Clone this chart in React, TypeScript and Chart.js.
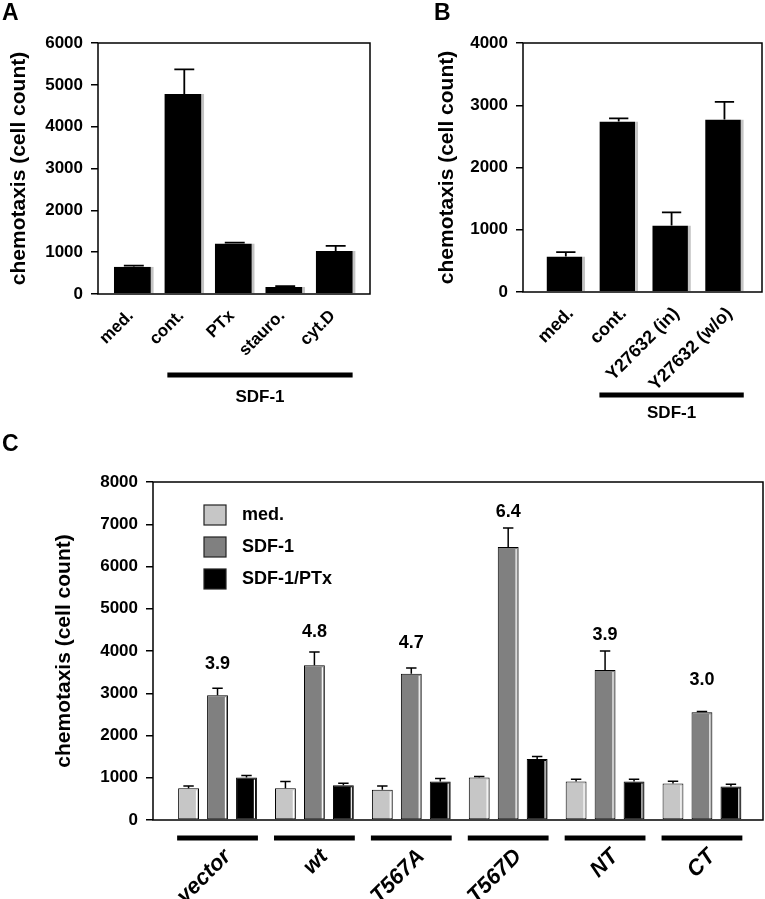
import React, { useEffect, useRef } from 'react';
import { Chart, registerables } from 'chart.js';

Chart.register(...registerables);

const FONT = "'Liberation Sans', Arial, Helvetica, sans-serif";
Chart.defaults.font.family = FONT;
Chart.defaults.color = '#000';

// ---------- Panel A ----------
const aCategories = ['med.', 'cont.', 'PTx', 'stauro.', 'cyt.D'];
const aValues = [650, 4780, 1210, 170, 1030];
const aErrors = [30, 590, 20, 15, 120];

// ---------- Panel B ----------
const bCategories = ['med.', 'cont.', 'Y27632 (in)', 'Y27632 (w/o)'];
const bValues = [570, 2740, 1070, 2770];
const bErrors = [70, 50, 210, 285];

// ---------- Panel C ----------
const cGroups = ['vector', 'wt', 'T567A', 'T567D', 'NT', 'CT'];
const cSeriesNames = ['med.', 'SDF-1', 'SDF-1/PTx'];
const medValues = [750, 750, 715, 1005, 910, 865];
const medErrors = [55, 160, 90, 25, 55, 50];
const sdfValues = [2955, 3660, 3460, 6460, 3550, 2550];
const sdfErrors = [165, 315, 135, 450, 450, 20];
const ptxValues = [1005, 820, 910, 1445, 910, 795];
const ptxErrors = [50, 50, 70, 60, 55, 50];
const ratioLabels = ['3.9', '4.8', '4.7', '6.4', '3.9', '3.0'];
const ratioLevels = [3690, 4460, 4190, 7290, 4380, 3305];

const yTitle = 'chemotaxis (cell count)';

// ---------- plugins ----------
function framePlugin() {
  return {
    id: 'frame',
    afterDraw(chart: any) {
      const { ctx, chartArea: a } = chart;
      ctx.save();
      ctx.strokeStyle = '#000';
      ctx.lineWidth = 1.5;
      ctx.strokeRect(a.left, a.top, a.right - a.left, a.bottom - a.top);
      ctx.restore();
    },
  };
}

function bevelPlugin(color: string, lw: number) {
  return {
    id: 'bevel',
    afterDatasetsDraw(chart: any) {
      const { ctx } = chart;
      ctx.save();
      ctx.strokeStyle = color;
      ctx.lineWidth = lw;
      chart.data.datasets.forEach((_ds: any, di: number) => {
        chart.getDatasetMeta(di).data.forEach((el: any) => {
          const x = el.x + el.width / 2 - 2.5;
          ctx.beginPath();
          ctx.moveTo(x, el.y + 2);
          ctx.lineTo(x, el.base - 1);
          ctx.stroke();
        });
      });
      ctx.restore();
    },
  };
}

function errorBarPlugin(lineWidth: number) {
  return {
    id: 'errorBars',
    afterDatasetsDraw(chart: any) {
      const { ctx } = chart;
      const yScale = chart.scales.y;
      ctx.save();
      ctx.strokeStyle = '#000';
      ctx.lineWidth = lineWidth;
      chart.data.datasets.forEach((ds: any, di: number) => {
        const errs = ds.errors;
        if (!errs) return;
        chart.getDatasetMeta(di).data.forEach((el: any, j: number) => {
          const v = ds.data[j].y;
          const top = yScale.getPixelForValue(v + errs[j]);
          const half = el.width * 0.25;
          ctx.beginPath();
          ctx.moveTo(el.x, el.y);
          ctx.lineTo(el.x, top);
          ctx.moveTo(el.x - half, top);
          ctx.lineTo(el.x + half, top);
          ctx.stroke();
        });
      });
      ctx.restore();
    },
  };
}

function groupLinePlugin(cfg: {
  spans: { from: number; to: number; label?: string }[];
  y: number;
  thickness: number;
  textY?: number;
  inset: number;
}) {
  return {
    id: 'groupLines',
    afterDraw(chart: any) {
      const { ctx } = chart;
      const first = chart.getDatasetMeta(0);
      const last = chart.getDatasetMeta(chart.data.datasets.length - 1);
      ctx.save();
      ctx.fillStyle = '#000';
      cfg.spans.forEach((s) => {
        const a = first.data[s.from];
        const b = last.data[s.to];
        const x1 = a.x - a.width / 2 + cfg.inset;
        const x2 = b.x + b.width / 2 - cfg.inset;
        ctx.fillRect(x1, cfg.y - cfg.thickness / 2, x2 - x1, cfg.thickness);
        if (s.label && cfg.textY !== undefined) {
          ctx.font = `bold 17px ${FONT}`;
          ctx.textAlign = 'center';
          ctx.textBaseline = 'middle';
          ctx.fillText(s.label, (x1 + x2) / 2, cfg.textY);
        }
      });
      ctx.restore();
    },
  };
}

function ratioLabelPlugin(datasetIndex: number, labels: string[], levels: number[]) {
  return {
    id: 'ratioLabels',
    afterDatasetsDraw(chart: any) {
      const { ctx } = chart;
      const yScale = chart.scales.y;
      const meta = chart.getDatasetMeta(datasetIndex);
      ctx.save();
      ctx.font = `bold 18px ${FONT}`;
      ctx.fillStyle = '#000';
      ctx.textAlign = 'center';
      ctx.textBaseline = 'middle';
      meta.data.forEach((el: any, j: number) => {
        ctx.fillText(labels[j], el.x, yScale.getPixelForValue(levels[j]));
      });
      ctx.restore();
    },
  };
}

function insideLegendPlugin() {
  return {
    id: 'insideLegend',
    afterDraw(chart: any) {
      const { ctx, chartArea: a } = chart;
      ctx.save();
      chart.data.datasets.forEach((ds: any, k: number) => {
        const bx = a.left + 51;
        const by = a.top + 23 + k * 32;
        ctx.fillStyle = ds.backgroundColor;
        ctx.fillRect(bx, by, 22, 20);
        ctx.strokeStyle = '#222';
        ctx.lineWidth = 1.2;
        ctx.strokeRect(bx, by, 22, 20);
        ctx.fillStyle = '#000';
        ctx.font = `bold 18px ${FONT}`;
        ctx.textAlign = 'left';
        ctx.textBaseline = 'middle';
        ctx.fillText(ds.label, bx + 38, by + 10.5);
      });
      ctx.restore();
    },
  };
}

// ---------- common axis pieces ----------
function yAxis(max: number, width: number, titlePad: number) {
  return {
    min: 0,
    max,
    grid: {
      display: true,
      drawOnChartArea: false,
      drawTicks: true,
      tickLength: 7,
      color: '#000',
      lineWidth: 1.5,
    },
    border: { display: false },
    ticks: {
      stepSize: 1000,
      padding: 8,
      color: '#000',
      font: { size: 17, weight: 'bold' },
      callback: (v: number) => String(v),
    },
    title: {
      display: true,
      text: yTitle,
      color: '#000',
      font: { size: 21, weight: 'bold' },
      padding: { top: titlePad, bottom: 0 },
    },
    afterFit: (s: any) => {
      s.width = width;
    },
  };
}

function xAxis(
  labels: string[],
  min: number,
  max: number,
  height: number,
  padding: number,
  labelOffset: number,
  font: any
) {
  return {
    type: 'linear',
    min,
    max,
    offset: false,
    grid: { display: false, drawTicks: false },
    border: { display: false },
    ticks: {
      stepSize: 1,
      includeBounds: false,
      autoSkip: false,
      minRotation: 45,
      maxRotation: 45,
      padding,
      labelOffset,
      color: '#000',
      font,
      callback: (v: number) => labels[v] ?? '',
    },
    afterFit: (s: any) => {
      s.height = height;
    },
  };
}

// ---------- configs ----------
function configA(): any {
  return {
    type: 'bar',
    data: {
      datasets: [
        {
          label: 'A',
          data: aValues.map((y, x) => ({ x, y })),
          errors: aErrors,
          backgroundColor: '#000',
          borderColor: '#c4c4c4',
          borderWidth: { left: 0, top: 0, bottom: 0, right: 3 },
          borderSkipped: false,
          categoryPercentage: 1,
          barPercentage: 0.79,
        },
      ],
    },
    options: {
      responsive: false,
      animation: false,
      events: [],
      layout: { padding: { top: 43, right: 10, left: 0, bottom: 0 } },
      plugins: { legend: { display: false }, tooltip: { enabled: false } },
      scales: {
        x: xAxis(aCategories, -0.71, 4.68, 126, 12, -3, { size: 17, weight: 'bold' }),
        y: yAxis(6000, 98, 7),
      },
    },
    plugins: [
      errorBarPlugin(1.8),
      framePlugin(),
      groupLinePlugin({ spans: [{ from: 1, to: 4, label: 'SDF-1' }], y: 375, thickness: 5, textY: 397, inset: 3 }),
    ],
  };
}

function configB(): any {
  return {
    type: 'bar',
    data: {
      datasets: [
        {
          label: 'B',
          data: bValues.map((y, x) => ({ x, y })),
          errors: bErrors,
          backgroundColor: '#000',
          borderColor: '#c4c4c4',
          borderWidth: { left: 0, top: 0, bottom: 0, right: 3 },
          borderSkipped: false,
          categoryPercentage: 1,
          barPercentage: 0.73,
        },
      ],
    },
    options: {
      responsive: false,
      animation: false,
      events: [],
      layout: { padding: { top: 43, right: 3, left: 0, bottom: 0 } },
      plugins: { legend: { display: false }, tooltip: { enabled: false } },
      scales: {
        x: xAxis(bCategories, -0.81, 3.71, 128, 11, 5, { size: 18, weight: 'bold' }),
        y: yAxis(4000, 143, 55),
      },
    },
    plugins: [
      errorBarPlugin(1.8),
      framePlugin(),
      groupLinePlugin({ spans: [{ from: 1, to: 3, label: 'SDF-1' }], y: 395, thickness: 5, textY: 413, inset: 0 }),
    ],
  };
}

function configC(): any {
  const mk = (label: string, vals: number[], errs: number[], color: string) => ({
    label,
    data: vals.map((y, x) => ({ x, y })),
    errors: errs,
    backgroundColor: color,
    borderColor: '#000',
    borderWidth: 1,
    borderSkipped: false,
    categoryPercentage: 0.897,
    barPercentage: 0.72,
  });
  return {
    type: 'bar',
    data: {
      datasets: [
        mk(cSeriesNames[0], medValues, medErrors, '#c6c6c6'),
        mk(cSeriesNames[1], sdfValues, sdfErrors, '#808080'),
        mk(cSeriesNames[2], ptxValues, ptxErrors, '#000000'),
      ],
    },
    options: {
      responsive: false,
      animation: false,
      events: [],
      layout: { padding: { top: 62, right: 2, left: 0, bottom: 0 } },
      plugins: { legend: { display: false }, tooltip: { enabled: false } },
      scales: {
        x: xAxis(cGroups, -0.666, 5.63, 79, 24, 10, { size: 22, weight: 'bold', style: 'italic' }),
        y: yAxis(8000, 153, 52),
      },
    },
    plugins: [
      bevelPlugin('#ffffff', 1.2),
      errorBarPlugin(1.5),
      framePlugin(),
      ratioLabelPlugin(1, ratioLabels, ratioLevels),
      insideLegendPlugin(),
      groupLinePlugin({
        spans: cGroups.map((_g, i) => ({ from: i, to: i })),
        y: 418,
        thickness: 5,
        inset: -1,
      }),
    ],
  };
}

function ChartCanvas(props: { make: () => any; left: number; top: number; width: number; height: number }) {
  const ref = useRef<HTMLCanvasElement | null>(null);
  useEffect(() => {
    if (!ref.current) return;
    const chart = new Chart(ref.current, props.make());
    return () => chart.destroy();
  }, []);
  return (
    <canvas
      ref={ref}
      width={props.width}
      height={props.height}
      style={{
        position: 'absolute',
        left: props.left,
        top: props.top,
        width: props.width,
        height: props.height,
        display: 'block',
      }}
    />
  );
}

const letterStyle = (left: number, top: number): React.CSSProperties => ({
  position: 'absolute',
  left,
  top,
  fontFamily: FONT,
  fontWeight: 'bold',
  fontSize: 23,
  lineHeight: '23px',
  color: '#000',
});

export default function App() {
  return (
    <div
      style={{
        position: 'absolute',
        left: 0,
        top: 0,
        width: 765,
        height: 899,
        background: '#fff',
        overflow: 'hidden',
      }}
    >
      <ChartCanvas make={configA} left={0} top={0} width={380} height={420} />
      <ChartCanvas make={configB} left={380} top={0} width={385} height={420} />
      <ChartCanvas make={configC} left={0} top={420} width={765} height={479} />
      <div style={letterStyle(2, 1)}>A</div>
      <div style={letterStyle(434, 1)}>B</div>
      <div style={letterStyle(2, 432)}>C</div>
    </div>
  );
}
